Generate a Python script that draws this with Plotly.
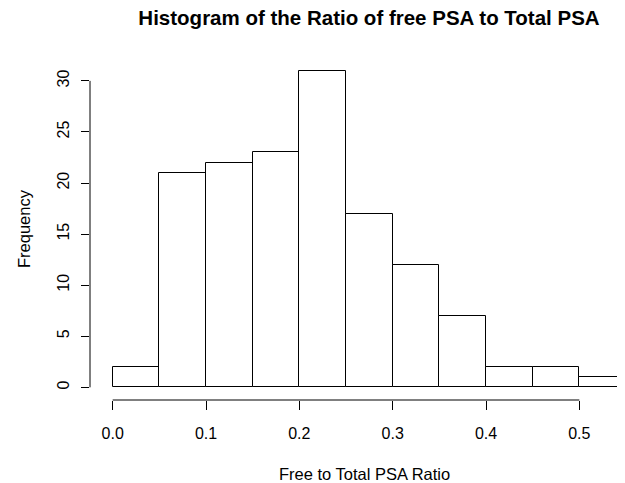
import plotly.graph_objects as go

bin_left = [0.00, 0.05, 0.10, 0.15, 0.20, 0.25, 0.30, 0.35, 0.40, 0.45, 0.50]
bin_width = 0.05
counts = [2, 21, 22, 23, 31, 17, 12, 7, 2, 2, 1]
x_ticks = [0.0, 0.1, 0.2, 0.3, 0.4, 0.5]
x_tick_labels = ["0.0", "0.1", "0.2", "0.3", "0.4", "0.5"]
y_ticks = [0, 5, 10, 15, 20, 25, 30]

OFF = 8  # default page body margin
W, H = 625, 483 - OFF
L, R, T, B = 90 - OFF, 0, 58 - OFF, 483 - 400
FONT = "Liberation Sans, Arial, sans-serif"

centers = [b + bin_width / 2 for b in bin_left]

fig = go.Figure(go.Bar(
    x=centers, y=counts, width=bin_width,
    marker=dict(color="white", line=dict(color="black", width=1)),
    hoverinfo="x+y",
))

fig.update_layout(
    width=W, height=H,
    margin=dict(l=L, r=R, t=T, b=B, pad=0),
    plot_bgcolor="white", paper_bgcolor="white",
    showlegend=False,
    font=dict(family=FONT, size=16, color="black"),
    title=dict(text="<b>Histogram of the Ratio of free PSA to Total PSA</b>",
               font=dict(family=FONT, size=20.5, color="black"),
               x=(369 - OFF) / W, xanchor="center", xref="container",
               y=1 - 3 / H, yanchor="top", yref="container"),
    bargap=0,
)

fig.update_xaxes(
    range=[-0.0243, -0.0243 + (W - L) / 933.3], tickvals=x_ticks, ticktext=x_tick_labels,
    ticks="outside", ticklen=9, tickcolor="black", tickwidth=1,
    showline=False, showgrid=False, zeroline=False,
    tickfont=dict(size=16), ticklabelstandoff=10,
)
fig.update_yaxes(
    range=[-1.24, 32.24], tickvals=y_ticks,
    ticks="outside", ticklen=8, tickcolor="black", tickwidth=1,
    showline=False, showgrid=False, zeroline=False,
    tickangle=-90, tickfont=dict(size=16), ticklabelstandoff=6,
)

# detached R-style axis lines spanning first to last tick
fig.add_shape(type="line", xref="x", yref="paper", x0=x_ticks[0], x1=x_ticks[-1],
              y0=0, y1=0, line=dict(color="black", width=1))
fig.add_shape(type="line", xref="paper", yref="y", x0=0, x1=0,
              y0=y_ticks[0], y1=y_ticks[-1], line=dict(color="black", width=1))

plot_h = H - T - B
plot_w = W - L - R
fig.add_annotation(text="Free to Total PSA Ratio", xref="paper", yref="paper",
                   x=(364 - 90) / plot_w, y=(400 - 474) / plot_h,
                   xanchor="center", yanchor="middle", showarrow=False,
                   font=dict(size=16.5))
fig.add_annotation(text="Frequency", xref="paper", yref="paper",
                   x=(24 - 90) / plot_w, y=(400 - 229) / plot_h,
                   xanchor="center", yanchor="middle", textangle=-90,
                   showarrow=False, font=dict(size=16.5))

fig.write_html("out.html")
